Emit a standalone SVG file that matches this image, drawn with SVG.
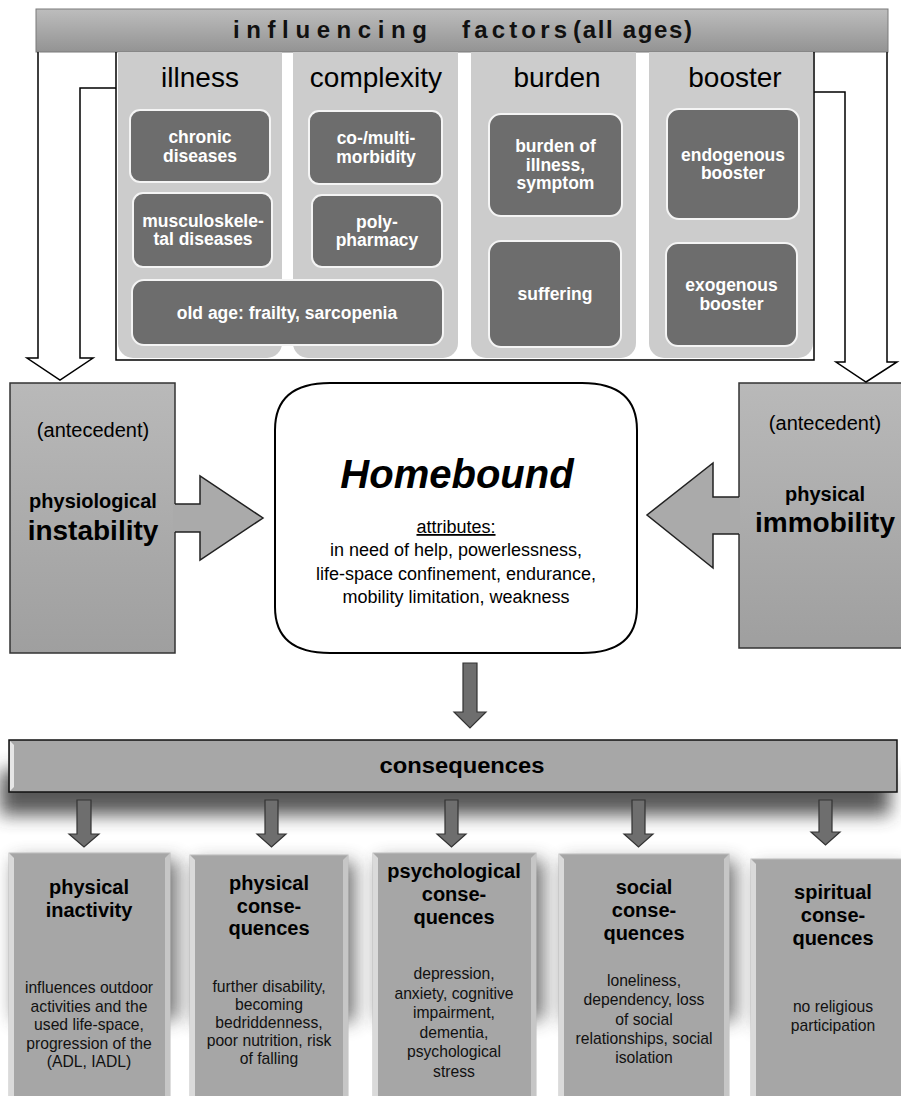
<svg xmlns="http://www.w3.org/2000/svg" width="901" height="1096" viewBox="0 0 901 1096">
<defs>
<style>
text{font-family:"Liberation Sans",Arial,sans-serif;}
.hdr{font-size:28px;text-anchor:middle;fill:#000;}
.dk{fill:#6d6d6d;stroke:#f4f4f4;stroke-width:2;}
.dt{font-size:17.5px;font-weight:bold;fill:#fff;text-anchor:middle;}
.col{fill:#cccccc;}
.ttl{font-size:24px;font-weight:bold;fill:#111;}
.ante{stroke:#333;stroke-width:1.5;}
.big{fill:#aaaaaa;}
.bigs{fill:none;stroke:#222;stroke-width:1.5;stroke-linejoin:miter;}
.hol{fill:#fff;stroke:#000;stroke-width:1.5;}
.dn{fill:#6e6e6e;stroke:#333;stroke-width:1.2;}
.bx{fill:#a6a6a6;stroke:#bdbdbd;stroke-width:1;}
.bl{fill:#dadada;}
.br{fill:#c6c6c6;}
.bt{font-size:20px;font-weight:bold;text-anchor:middle;fill:#000;}
.bb{font-size:15.7px;text-anchor:middle;fill:#111;}
.sh{fill:#3a3a3a;filter:url(#blur);}
</style>
<linearGradient id="gBan" x1="0" y1="0" x2="0" y2="1">
<stop offset="0" stop-color="#bdbdbd"/><stop offset="1" stop-color="#939393"/>
</linearGradient>
<linearGradient id="gAnte" x1="0" y1="0" x2="0" y2="1">
<stop offset="0" stop-color="#b9b9b9"/><stop offset="1" stop-color="#9f9f9f"/>
</linearGradient>
<filter id="blur" x="-20%" y="-50%" width="140%" height="200%"><feGaussianBlur stdDeviation="9"/></filter>
</defs>

<rect width="901" height="1096" fill="#fff"/>

<!-- top banner -->
<g id="banner">
<rect x="36" y="9" width="852" height="43" fill="url(#gBan)" stroke="#7a7a7a" stroke-width="1"/>
<text class="ttl" x="233" y="38" textLength="194" lengthAdjust="spacing">influencing</text>
<text class="ttl" x="462" y="38" textLength="105" lengthAdjust="spacing">factors</text>
<text class="ttl" x="573" y="38" textLength="119" lengthAdjust="spacing">(all ages)</text>
</g>

<!-- panel -->
<g id="panel">
<path d="M116 52 V360 H814 V52" fill="none" stroke="#000" stroke-width="1.5"/>
<path class="col" d="M118 52 H282 V343 a15 15 0 0 1 -15 15 H133 a15 15 0 0 1 -15 -15 Z"/>
<path class="col" d="M293 52 H458 V343 a15 15 0 0 1 -15 15 H308 a15 15 0 0 1 -15 -15 Z"/>
<path class="col" d="M471 52 H636 V343 a15 15 0 0 1 -15 15 H486 a15 15 0 0 1 -15 -15 Z"/>
<path class="col" d="M649 52 H813 V343 a15 15 0 0 1 -15 15 H664 a15 15 0 0 1 -15 -15 Z"/>
<text class="hdr" x="200" y="87">illness</text>
<text class="hdr" x="376" y="87">complexity</text>
<text class="hdr" x="557" y="87">burden</text>
<text class="hdr" x="735" y="87">booster</text>
</g>

<g id="chronic"><rect class="dk" x="130" y="110" width="140" height="72" rx="10"/>
<text class="dt" x="200" y="142.5">chronic</text><text class="dt" x="200" y="161.5">diseases</text></g>
<g id="musculo"><rect class="dk" x="133" y="193" width="139" height="74" rx="10"/>
<text class="dt" x="203" y="226.5">musculoskele-</text><text class="dt" x="203" y="245">tal diseases</text></g>
<g id="comorb"><rect class="dk" x="309" y="111" width="133" height="73" rx="10"/>
<text class="dt" x="376" y="144">co-/multi-</text><text class="dt" x="376" y="163">morbidity</text></g>
<g id="polypharm"><rect class="dk" x="312" y="195" width="130" height="72" rx="10"/>
<text class="dt" x="377" y="227.5">poly-</text><text class="dt" x="377" y="246">pharmacy</text></g>
<g id="oldage"><rect class="dk" x="132" y="280" width="311" height="65" rx="12"/>
<text class="dt" x="287" y="318.5">old age: frailty, sarcopenia</text></g>
<g id="burdenill"><rect class="dk" x="489" y="114" width="133" height="102" rx="12"/>
<text class="dt" x="555.5" y="152">burden of</text><text class="dt" x="555.5" y="170.5">illness,</text><text class="dt" x="555.5" y="189">symptom</text></g>
<g id="suffering"><rect class="dk" x="489" y="241" width="132" height="106" rx="12"/>
<text class="dt" x="555" y="300">suffering</text></g>
<g id="endo"><rect class="dk" x="667" y="109" width="132" height="110" rx="12"/>
<text class="dt" x="733" y="160.5">endogenous</text><text class="dt" x="733" y="179">booster</text></g>
<g id="exo"><rect class="dk" x="666" y="243" width="131" height="103" rx="12"/>
<text class="dt" x="731.5" y="291">exogenous</text><text class="dt" x="731.5" y="309.5">booster</text></g>

<!-- antecedent left -->
<g id="ante-left">
<rect class="ante" x="10" y="383" width="165" height="270" fill="url(#gAnte)"/>
<text x="93" y="437" font-size="20" text-anchor="middle">(antecedent)</text>
<text x="93" y="508" font-size="20" font-weight="bold" text-anchor="middle">physiological</text>
<text x="93" y="540" font-size="28" font-weight="bold" text-anchor="middle">instability</text>
</g>
<!-- antecedent right -->
<g id="ante-right">
<rect class="ante" x="739" y="383" width="170" height="265" fill="url(#gAnte)"/>
<text x="825" y="430" font-size="20" text-anchor="middle">(antecedent)</text>
<text x="825" y="501" font-size="20" font-weight="bold" text-anchor="middle">physical</text>
<text x="825" y="532" font-size="28" font-weight="bold" text-anchor="middle">immobility</text>
</g>

<!-- Homebound -->
<g id="homebound">
<path d="M330 383 H582 Q637 383 637 430 V607 Q637 653 582 653 H330 Q275 653 275 607 V430 Q275 383 330 383 Z" fill="#fff" stroke="#000" stroke-width="2"/>
<text x="457" y="488" font-size="40" font-weight="bold" font-style="italic" text-anchor="middle">Homebound</text>
<text x="456" y="533" font-size="18" text-anchor="middle" text-decoration="underline">attributes:</text>
<text x="456" y="556" font-size="18" text-anchor="middle">in need of help, powerlessness,</text>
<text x="456" y="580" font-size="18" text-anchor="middle">life-space confinement, endurance,</text>
<text x="456" y="603" font-size="18" text-anchor="middle">mobility limitation, weakness</text>
</g>

<!-- consequences bar -->
<g id="consequences">
<rect class="sh" x="0" y="770" width="890" height="45" opacity="0.85"/>
<rect x="9" y="740" width="888" height="52" fill="#a7a7a7" stroke="#111" stroke-width="1.5"/>
<polygon points="10,741 14,745 14,787 10,791" fill="#e6e6e6"/>
<text x="462" y="773" font-family="'Open Sans','Liberation Sans',sans-serif" font-size="22" font-weight="bold" text-anchor="middle" textLength="165" lengthAdjust="spacingAndGlyphs">consequences</text>
</g>

<!-- bottom boxes -->
<g id="shadows">
<rect class="sh" x="14" y="860" width="164" height="160" opacity="0.7"/>
<rect class="sh" x="195" y="862" width="160" height="160" opacity="0.7"/>
<rect class="sh" x="378" y="860" width="166" height="160" opacity="0.7"/>
<rect class="sh" x="564" y="861" width="172" height="160" opacity="0.7"/>
<rect class="sh" x="756" y="866" width="150" height="160" opacity="0.5"/>
</g>

<g id="c1">
<rect class="bx" x="9" y="853" width="161" height="245"/>
<polygon class="bl" points="9,853 14,858 14,1096 9,1096"/>
<polygon class="br" points="170,853 165,858 165,1096 170,1096"/>
<text class="bt" x="89" y="894">physical</text><text class="bt" x="89" y="917">inactivity</text>
<text class="bb" x="89" y="993">influences outdoor</text>
<text class="bb" x="89" y="1011.5">activities and the</text>
<text class="bb" x="89" y="1030">used life-space,</text>
<text class="bb" x="89" y="1048.5">progression of the</text>
<text class="bb" x="89" y="1067">(ADL, IADL)</text>
</g>
<g id="c2">
<rect class="bx" x="190" y="855" width="158" height="243"/>
<polygon class="bl" points="190,855 195,860 195,1096 190,1096"/>
<polygon class="br" points="348,855 343,860 343,1096 348,1096"/>
<text class="bt" x="269" y="890">physical</text><text class="bt" x="269" y="912.5">conse-</text><text class="bt" x="269" y="935">quences</text>
<text class="bb" x="269" y="992">further disability,</text>
<text class="bb" x="269" y="1010">becoming</text>
<text class="bb" x="269" y="1028">bedriddenness,</text>
<text class="bb" x="269" y="1046">poor nutrition, risk</text>
<text class="bb" x="269" y="1064">of falling</text>
</g>
<g id="c3">
<rect class="bx" x="373" y="853" width="163" height="245"/>
<polygon class="bl" points="373,853 378,858 378,1096 373,1096"/>
<polygon class="br" points="536,853 531,858 531,1096 536,1096"/>
<text class="bt" x="454" y="878">psychological</text><text class="bt" x="454" y="901">conse-</text><text class="bt" x="454" y="924">quences</text>
<text class="bb" x="454" y="979">depression,</text>
<text class="bb" x="454" y="998.5">anxiety, cognitive</text>
<text class="bb" x="454" y="1018">impairment,</text>
<text class="bb" x="454" y="1037.5">dementia,</text>
<text class="bb" x="454" y="1057">psychological</text>
<text class="bb" x="454" y="1076.5">stress</text>
</g>
<g id="c4">
<rect class="bx" x="559" y="854" width="170" height="244"/>
<polygon class="bl" points="559,854 564,859 564,1096 559,1096"/>
<polygon class="br" points="729,854 724,859 724,1096 729,1096"/>
<text class="bt" x="644" y="894">social</text><text class="bt" x="644" y="917">conse-</text><text class="bt" x="644" y="940">quences</text>
<text class="bb" x="644" y="986">loneliness,</text>
<text class="bb" x="644" y="1005">dependency, loss</text>
<text class="bb" x="644" y="1024.5">of social</text>
<text class="bb" x="644" y="1043.5">relationships, social</text>
<text class="bb" x="644" y="1063">isolation</text>
</g>
<g id="c5">
<rect class="bx" x="751" y="859" width="152" height="239"/>
<polygon class="bl" points="751,859 756,864 756,1096 751,1096"/>
<text class="bt" x="833" y="899">spiritual</text><text class="bt" x="833" y="922">conse-</text><text class="bt" x="833" y="945">quences</text>
<text class="bb" x="833" y="1012">no religious</text>
<text class="bb" x="833" y="1031">participation</text>
</g>

<!-- connectors -->
<g id="connectors">
<path class="hol" d="M38 52 V358 H27 L60 380 L93 358 H80 V88 H116"/>
<path class="hol" d="M887 52 V362 H897 L866 382 L836 362 H845 V92 H814"/>
<polygon class="big" points="173,504 200,504 200,476 263,518 200,560 200,532 173,532"/>
<path class="bigs" d="M175 504 H200 V476 L263 518 L200 560 V532 H175"/>
<polygon class="big" points="740,497 713,497 713,463 647,515 713,568 713,534 740,534"/>
<path class="bigs" d="M739 497 H713 V463 L647 515 L713 568 V534 H739"/>
<path class="dn" d="M463 663 H477 V712 H486 L470 728 L454 712 H463 Z"/>
<path class="dn" d="M77 800 H91 V834 H99 L84 847 L69 834 H77 Z"/>
<path class="dn" d="M265 800 H278 V834 H286 L271.5 847 L257 834 H265 Z"/>
<path class="dn" d="M445 800 H458 V834 H466 L451.5 847 L437 834 H445 Z"/>
<path class="dn" d="M632 800 H645 V834 H653 L638.5 847 L624 834 H632 Z"/>
<path class="dn" d="M819 800 H832 V832 H840 L825.5 845 L811 832 H819 Z"/>
</g>
</svg>
